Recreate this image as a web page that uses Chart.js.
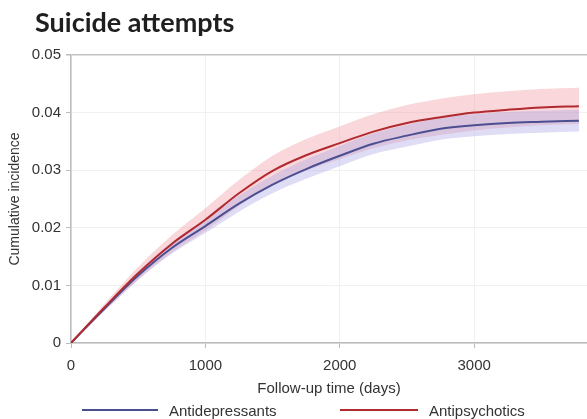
<!DOCTYPE html>
<html>
<head>
<meta charset="utf-8">
<script src="https://cdn.jsdelivr.net/npm/chart.js@4"></script>
<style>
    html, body { margin: 0; padding: 0; background: #fff; }
    #wrap { position: relative; width: 587px; height: 419px; overflow: hidden; }
    #title {
        position: absolute; left: 35px; top: 8px; margin: 0;
        font: bold 27px 'Lato', sans-serif; line-height: 27px; color: #1f1f1f;
    }
    #legend {
        position: absolute; left: 82px; top: 401px; height: 18px;
        font: 15px 'Liberation Sans', Arial, sans-serif; color: #333;
        display: flex; align-items: center; white-space: nowrap;
    }
    .item { display: flex; align-items: center; }
    .item:first-child { width: 258px; }
    .swatch { display: inline-block; height: 2px; margin-right: 11px; }
</style>
</head>
<body>
<div id="wrap">
    <h1 id="title">Suicide attempts</h1>
    <canvas id="chart" width="587" height="419"></canvas>
    <div id="legend"></div>
</div>
<script>
// ============================================
// Cumulative incidence curves
// ============================================

const days = [0, 250, 500, 750, 1000, 1250, 1500, 1750, 2000, 2250, 2500, 2750, 3000, 3250, 3500, 3780];

const antidepressants = [0, 0.0060, 0.0117, 0.0165, 0.0203, 0.0242, 0.0275, 0.0302, 0.0325, 0.0346, 0.0360, 0.0372, 0.0378, 0.0382, 0.0384, 0.0386];
const antidepressantsUpper = [0, 0.0064, 0.0124, 0.0175, 0.0215, 0.0256, 0.0291, 0.0319, 0.0342, 0.0364, 0.0379, 0.0391, 0.0397, 0.0401, 0.0403, 0.0405];
const antidepressantsLower = [0, 0.0056, 0.0110, 0.0155, 0.0191, 0.0228, 0.0260, 0.0285, 0.0307, 0.0328, 0.0341, 0.0353, 0.0359, 0.0363, 0.0365, 0.0367];

const antipsychotics = [0, 0.0062, 0.0121, 0.0172, 0.0214, 0.0260, 0.0299, 0.0326, 0.0347, 0.0367, 0.0382, 0.0392, 0.0400, 0.0405, 0.0409, 0.0411];
const antipsychoticsUpper = [0, 0.0068, 0.0132, 0.0187, 0.0234, 0.0283, 0.0325, 0.0354, 0.0376, 0.0397, 0.0413, 0.0424, 0.0432, 0.0437, 0.0441, 0.0443];
const antipsychoticsLower = [0, 0.0056, 0.0110, 0.0157, 0.0195, 0.0238, 0.0274, 0.0299, 0.0319, 0.0338, 0.0352, 0.0361, 0.0369, 0.0374, 0.0378, 0.0380];

const xTicks = [0, 1000, 2000, 3000];
const yTicks = [0, 0.01, 0.02, 0.03, 0.04, 0.05];

const BLUE = '#4b4f92';
const RED = '#b12a30';
const TEXT = '#333333';

function pts(values) {
    return days.map((d, i) => ({ x: d, y: values[i] }));
}

function band(values, color, fill, order) {
    return {
        label: '',
        data: pts(values),
        borderWidth: 0,
        borderColor: 'transparent',
        backgroundColor: color,
        pointRadius: 0,
        fill: fill,
        cubicInterpolationMode: 'monotone',
        order: order
    };
}

const tickFont = { family: "'Liberation Sans', Arial, sans-serif", size: 15 };

const chart = new Chart(document.getElementById('chart'), {
    type: 'line',
    data: {
        datasets: [
            {
                label: 'Antidepressants',
                data: pts(antidepressants),
                borderColor: BLUE,
                backgroundColor: BLUE,
                borderWidth: 2,
                pointRadius: 0,
                fill: false,
                cubicInterpolationMode: 'monotone',
                order: 1
            },
            {
                label: 'Antipsychotics',
                data: pts(antipsychotics),
                borderColor: RED,
                backgroundColor: RED,
                borderWidth: 2,
                pointRadius: 0,
                fill: false,
                cubicInterpolationMode: 'monotone',
                order: 0
            },
            band(antipsychoticsUpper, 'rgba(238, 150, 160, 0.38)', '+1', 5),
            band(antipsychoticsLower, 'transparent', false, 5),
            band(antidepressantsUpper, 'rgba(170, 165, 230, 0.38)', '+1', 4),
            band(antidepressantsLower, 'transparent', false, 4)
        ]
    },
    options: {
        responsive: false,
        animation: false,
        layout: { padding: { top: 55, right: 0, bottom: 21, left: 0 } },
        scales: {
            x: {
                type: 'linear',
                min: 0,
                max: 3840,
                afterBuildTicks: axis => { axis.ticks = xTicks.map(v => ({ value: v })); },
                afterFit: scale => { scale.height = 55; },
                ticks: { color: TEXT, font: tickFont, padding: 9, maxRotation: 0, callback: v => String(v) },
                grid: { color: '#f1f1f1', tickColor: '#bbbbbb', tickLength: 5 },
                border: { color: '#bbbbbb', width: 1.5 },
                title: { display: true, text: 'Follow-up time (days)', color: TEXT, font: tickFont, padding: { top: 0, bottom: 0 } }
            },
            y: {
                min: 0,
                max: 0.05,
                afterBuildTicks: axis => { axis.ticks = yTicks.map(v => ({ value: v })); },
                afterFit: scale => { scale.width = 71; },
                ticks: {
                    color: TEXT, font: tickFont, padding: 5,
                    callback: v => v === 0 ? '0' : v.toFixed(2)
                },
                grid: {
                    color: ctx => (ctx.tick && ctx.tick.value === 0.05) ? '#c4c4c4' : '#f1f1f1',
                    lineWidth: ctx => (ctx.tick && ctx.tick.value === 0.05) ? 1.5 : 1,
                    tickColor: '#bbbbbb', tickLength: 5
                },
                border: { color: '#bbbbbb', width: 1.5 },
                title: { display: true, text: 'Cumulative incidence', color: TEXT, font: { family: tickFont.family, size: 14 }, padding: { top: 7, bottom: 0 } }
            }
        },
        plugins: {
            title: { display: false },
            tooltip: { enabled: false },
            legend: { display: false }
        }
    }
});

// HTML legend built from the two line datasets
const legendEl = document.getElementById('legend');
chart.data.datasets.slice(0, 2).forEach((ds, i) => {
    const item = document.createElement('span');
    item.className = 'item';
    const sw = document.createElement('span');
    sw.className = 'swatch';
    sw.style.background = ds.borderColor;
    sw.style.width = (i === 0 ? 76 : 78) + 'px';
    item.appendChild(sw);
    item.appendChild(document.createTextNode(ds.label));
    legendEl.appendChild(item);
});
</script>
</body>
</html>
